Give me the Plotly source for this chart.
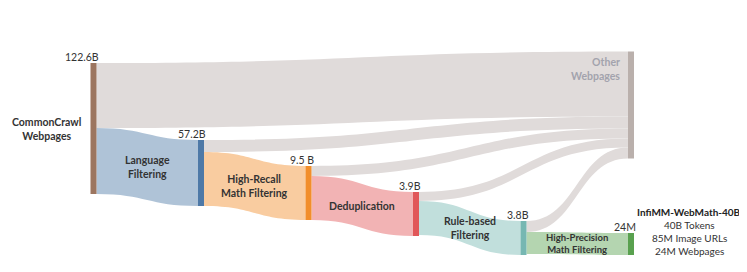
import plotly.graph_objects as go

# ---------------- data ----------------
node_names = ["CommonCrawl<br>Webpages", "Language<br>Filtering", "High-Recall<br>Math Filtering",
              "Deduplication", "Rule-based<br>Filtering", "High-Precision<br>Math Filtering",
              "Other<br>Webpages"]
node_counts = ["122.6B", "57.2B", "9.5 B", "3.9B", "3.8B", "24M", ""]
link_source = [0, 0, 1, 1, 2, 2, 3, 3, 4, 4]
link_target = [6, 1, 6, 2, 6, 3, 6, 4, 6, 5]
# flow band widths as drawn in the picture (visual weights)
link_weight = [65, 66, 12, 54, 10, 44, 9, 34, 11, 22]
output_title = "InfiMM-WebMath-40B"
output_lines = ["40B Tokens", "85M Image URLs", "24M Webpages"]

# ---------------- style / layout ----------------
W, Hfig = 747, 272
OFF = 8  # page body margin: figure starts 8px right/down in the window
node_colors = ["#9C755F", "#4E79A7", "#F28E2B", "#E15759", "#76B7B2", "#59A14F", "#BAB0AC"]
ALPHA = 0.45


def tint(hexcol, a=ALPHA):
    r, g, b = (int(hexcol[i:i + 2], 16) for i in (1, 3, 5))
    f = lambda c: round(255 - a * (255 - c))
    return f"rgb({f(r)},{f(g)},{f(b)})"


link_colors = [tint(node_colors[t]) for t in link_target]

# all layout positions below are window pixels
DOM_TOP, DOM_BOT = 51.5, 254.5
DH = DOM_BOT - DOM_TOP
THICK = 6
stage_x0, stage_dx = 93.5, 107.5
node_xc = [stage_x0 + i * stage_dx for i in range(6)] + [stage_x0 + 5 * stage_dx]
node_top = [63, 140, 166, 192, 221, None, 51.5]   # None -> bottom aligned with previous

n = len(node_names)
vin = [sum(w for s, t, w in zip(link_source, link_target, link_weight) if t == k) for k in range(n)]
vout = [sum(w for s, t, w in zip(link_source, link_target, link_weight) if s == k) for k in range(n)]
node_h = [max(a, b) for a, b in zip(vin, vout)]
node_top[5] = node_top[4] + node_h[4] - node_h[5]
node_yc = [t + h / 2 for t, h in zip(node_top, node_h)]

# pad so that one value unit == one pixel in the last column
PAD = DH - (node_h[5] + node_h[6])

# replicate band positions for labels
src_off, tgt_off = {}, {}
for k in range(n):
    outs = sorted([i for i in range(len(link_source)) if link_source[i] == k], key=lambda i: node_top[link_target[i]])
    y = node_top[k]
    for i in outs:
        src_off[i] = y
        y += link_weight[i]
    ins = sorted([i for i in range(len(link_source)) if link_target[i] == k], key=lambda i: node_top[link_source[i]])
    y = node_top[k]
    for i in ins:
        tgt_off[i] = y
        y += link_weight[i]

FONT = "Lato"
TXT = "#333333"
FS = 10.5


def px(x):
    return (x - OFF) / W


def py(y):
    return 1 - (y - OFF) / Hfig


annotations = []
for k in range(6):
    annotations.append(dict(x=px(node_xc[k] + THICK / 2 + 4), y=py(node_top[k] - 6), text=node_counts[k],
                            xanchor="right", yanchor="middle", showarrow=False,
                            font=dict(family=FONT, size=FS, color=TXT)))
annotations.append(dict(x=px(node_xc[0] - THICK / 2 - 8), y=py(node_yc[0]), text="<b>" + node_names[0] + "</b>",
                        xanchor="right", yanchor="middle", align="center", showarrow=False,
                        font=dict(family=FONT, size=FS, color=TXT)))
for i in range(len(link_source)):
    s, t = link_source[i], link_target[i]
    if t == 6:
        continue
    xm = (node_xc[s] + node_xc[t]) / 2
    ym = (src_off[i] + tgt_off[i]) / 2 + link_weight[i] / 2
    annotations.append(dict(x=px(xm), y=py(ym), text="<b>" + node_names[t] + "</b>",
                            xanchor="center", yanchor="middle", align="center", showarrow=False,
                            font=dict(family=FONT, size=FS if t != 5 else 9.5, color=TXT)))
annotations.append(dict(x=px(node_xc[6] - THICK / 2 - 6), y=py(node_top[6] + 17), text="<b>" + node_names[6] + "</b>",
                        xanchor="right", yanchor="middle", align="right", showarrow=False,
                        font=dict(family=FONT, size=FS, color="#A3A3AD")))
ox = node_xc[5] + 58
oy0 = node_top[5] + node_h[5] - 43
annotations.append(dict(x=px(ox), y=py(oy0), text="<b>" + output_title + "</b>", xanchor="center", yanchor="middle",
                        showarrow=False, font=dict(family=FONT, size=10, color="#222222")))
for j, line in enumerate(output_lines):
    annotations.append(dict(x=px(ox), y=py(oy0 + 13 * (j + 1)), text=line, xanchor="center", yanchor="middle",
                            showarrow=False, font=dict(family=FONT, size=10, color=TXT)))

fig = go.Figure(go.Sankey(
    arrangement="fixed",
    domain=dict(x=[0, 1], y=[py(DOM_BOT), py(DOM_TOP)]),
    hoverinfo="none",
    node=dict(
        label=[""] * n,
        x=[px(xc) for xc in node_xc],
        y=[(yc - DOM_TOP) / DH for yc in node_yc],
        pad=PAD,
        thickness=THICK,
        color=node_colors,
        line=dict(width=0),
        hoverinfo="none",
    ),
    link=dict(source=link_source, target=link_target, value=link_weight,
              color=link_colors, hoverinfo="none", line=dict(width=0)),
))
fig.update_layout(width=W, height=Hfig, margin=dict(l=0, r=0, t=0, b=0),
                  paper_bgcolor="white", plot_bgcolor="white",
                  annotations=annotations, font=dict(family=FONT))
fig.write_html("out.html")
